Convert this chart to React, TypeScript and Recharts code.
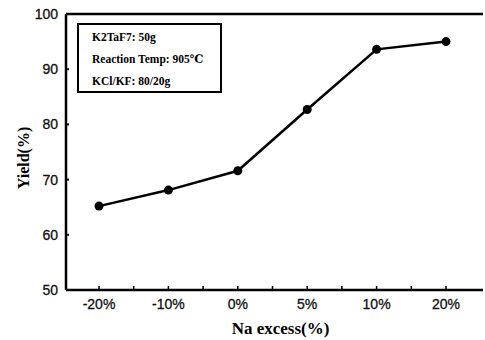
import { LineChart, Line, XAxis, YAxis, ReferenceLine } from "recharts";

const categories = ["-20%", "-10%", "0%", "5%", "10%", "20%"];
const yieldValues = [65.2, 68.1, 71.6, 82.7, 93.6, 95.0];
const yTicks = [50, 60, 70, 80, 90, 100];
const notes = ["K2TaF7: 50g", "Reaction Temp: 905\u2103", "KCl/KF: 80/20g"];

const data = categories.map((label, i) => ({ label, yield: yieldValues[i] }));

const serif = "'Liberation Serif', 'DejaVu Serif', serif";
const sans = "'Liberation Sans', Arial, sans-serif";

const YTick = (props: any) => {
  const { x, y, payload } = props;
  return (
    <g>
      <line x1={x + 8} x2={x + 11} y1={y} y2={y} stroke="#000" strokeWidth={2} />
      <text x={x} y={y} dy={5} textAnchor="end" fontSize={14} fontFamily={sans} fill="#111" stroke="#111" strokeWidth={0.3}>
        {payload.value}
      </text>
    </g>
  );
};

const XTick = (props: any) => {
  const { x, y, payload, index } = props;
  const half = 34.7;
  return (
    <g>
      <line x1={x} x2={x} y1={y - 9} y2={y - 12} stroke="#000" strokeWidth={1.5} />
      {index < categories.length - 1 && (
        <line x1={x + half} x2={x + half} y1={y - 9} y2={y - 12} stroke="#000" strokeWidth={1.5} />
      )}
      <text x={x} y={y} dy={11} textAnchor="middle" fontSize={14} fontFamily={sans} fill="#111" stroke="#111" strokeWidth={0.3}>
        {payload.value}
      </text>
    </g>
  );
};

const YTitle = (props: any) => {
  const { viewBox } = props;
  const cx = viewBox.x + 23;
  const cy = viewBox.y + viewBox.height / 2 + 6;
  return (
    <text
      x={cx}
      y={cy}
      transform={`rotate(-90, ${cx}, ${cy})`}
      textAnchor="middle"
      dominantBaseline="central"
      fontFamily={serif}
      fontWeight="bold"
      fontSize={16}
      fill="#000"
    >
      Yield(%)
    </text>
  );
};

export default function App() {
  return (
    <div style={{ position: "absolute", left: 0, top: 0, width: 485, height: 340, background: "#fff" }}>
      <LineChart width={485} height={340} data={data} margin={{ top: 14, right: 2, bottom: 0, left: 0 }}>
        <XAxis
          dataKey="label"
          height={50}
          padding={{ left: 33, right: 37 }}
          axisLine={{ stroke: "#000", strokeWidth: 2.5 }}
          tickLine={false}
          tick={<XTick />}
          interval={0}
          label={{
            value: "Na excess(%)",
            position: "insideBottom",
            offset: 6,
            dx: 6,
            style: { fontFamily: serif, fontWeight: "bold", fontSize: 17, fill: "#000" },
          }}
        />
        <YAxis
          domain={[50, 100]}
          ticks={yTicks}
          width={66}
          interval={0}
          axisLine={{ stroke: "#000", strokeWidth: 2.5 }}
          tickLine={false}
          tick={<YTick />}
          label={<YTitle />}
        />
        <YAxis
          yAxisId="frame"
          orientation="right"
          width={0}
          domain={[50, 100]}
          tick={false}
          tickLine={false}
          axisLine={{ stroke: "#999", strokeWidth: 1, strokeDasharray: "6 3" }}
        />
        <ReferenceLine y={100} stroke="#000" strokeWidth={2.5} />
        <Line
          dataKey="yield"
          type="linear"
          stroke="#000"
          strokeWidth={2.5}
          dot={{ r: 4.5, fill: "#000", stroke: "#000", strokeWidth: 0 }}
          isAnimationActive={false}
        />
      </LineChart>
      <div
        style={{
          position: "absolute",
          left: 77,
          top: 23,
          width: 145,
          height: 70,
          border: "2px solid #000",
          fontFamily: serif,
          fontWeight: "bold",
          fontSize: 11.5,
          color: "#000",
          paddingLeft: 13,
          paddingTop: 1,
          boxSizing: "border-box",
          lineHeight: "22px",
          whiteSpace: "nowrap",
        }}
      >
        {notes.map((n) => (
          <div key={n}>{n}</div>
        ))}
      </div>
    </div>
  );
}
